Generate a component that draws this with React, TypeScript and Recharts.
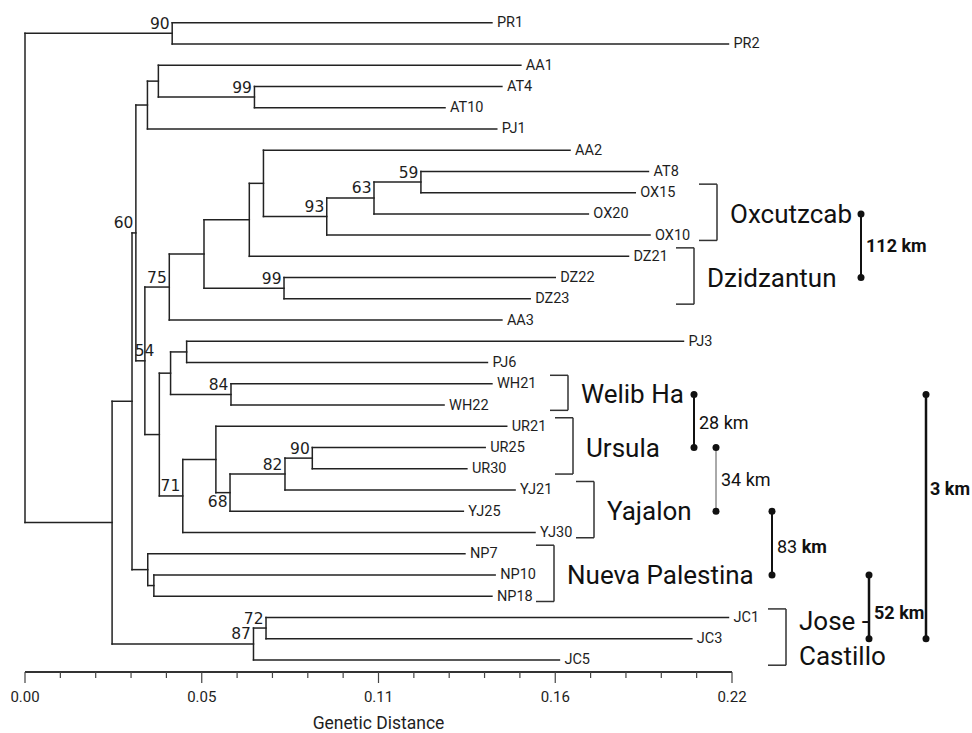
import { ComposedChart, XAxis, YAxis, ReferenceLine, ReferenceDot, Scatter } from "recharts"

// ── Data ───────────────────────────────────────────────────────────────────

const LEAF_NAMES = [
  "PR1", "PR2", "AA1", "AT4", "AT10", "PJ1", "AA2", "AT8", "OX15", "OX20", "OX10",
  "DZ21", "DZ22", "DZ23", "AA3", "PJ3", "PJ6", "WH21", "WH22", "UR21", "UR25", "UR30",
  "YJ21", "YJ25", "YJ30", "NP7", "NP10", "NP18", "JC1", "JC3", "JC5",
]

// distance from the root to each tip
const LEAF_DIST = [
  0.1453, 0.2189, 0.1543, 0.1484, 0.1307, 0.1468, 0.1696, 0.194, 0.1899, 0.1753, 0.1945,
  0.1878, 0.165, 0.1572, 0.1484, 0.2049, 0.1439, 0.1453, 0.1304, 0.1499, 0.1432, 0.1375,
  0.1525, 0.1364, 0.1587, 0.1369, 0.1463, 0.1453, 0.2189, 0.2075, 0.1663,
]

// internal nodes: id, distance from root, upper child, lower child, bootstrap
const TREE_NODES: [string, number, string, string, number | null][] = [
  ["root", 0, "nPR", "nA", null],
  ["nPR", 0.0458, "PR1", "PR2", 90],
  ["nA", 0.0271, "nB", "nJC", null],
  ["nB", 0.0333, "nC", "nNP", null],
  ["nC", 0.0345, "nAA", "nD", 60],
  ["nAA", 0.0381, "nG", "PJ1", null],
  ["nG", 0.0415, "AA1", "nAT", null],
  ["nAT", 0.0714, "AT4", "AT10", 99],
  ["nD", 0.0373, "n75", "nF", 54],
  ["n75", 0.0449, "nH", "AA3", 75],
  ["nH", 0.0557, "nI", "nDZ", null],
  ["nI", 0.0698, "nJ", "DZ21", null],
  ["nJ", 0.0742, "AA2", "n93", null],
  ["n93", 0.0939, "n63", "OX10", 93],
  ["n63", 0.1086, "n59", "OX20", 63],
  ["n59", 0.1232, "AT8", "OX15", 59],
  ["nDZ", 0.0806, "DZ22", "DZ23", 99],
  ["nF", 0.0418, "nK", "n71", null],
  ["nK", 0.0453, "nPJ", "nWH", null],
  ["nPJ", 0.0503, "PJ3", "PJ6", null],
  ["nWH", 0.0641, "WH21", "WH22", 84],
  ["n71", 0.0491, "nL", "YJ30", 71],
  ["nL", 0.0594, "UR21", "n68", null],
  ["n68", 0.0638, "n82", "YJ25", 68],
  ["n82", 0.0809, "n90", "YJ21", 82],
  ["n90", 0.0894, "UR25", "UR30", 90],
  ["nNP", 0.0382, "NP7", "nNP2", null],
  ["nNP2", 0.0401, "NP10", "NP18", null],
  ["nJC", 0.0711, "n72", "JC5", 87],
  ["n72", 0.075, "JC1", "JC3", 72],
]

// sampling sites: label, first tip, last tip
const GROUPS: [string, string, string][] = [
  ["Oxcutzcab", "OX15", "OX10"],
  ["Dzidzantun", "DZ21", "DZ23"],
  ["Welib Ha", "WH21", "WH22"],
  ["Ursula", "UR21", "UR30"],
  ["Yajalon", "YJ21", "YJ30"],
  ["Nueva Palestina", "NP7", "NP18"],
  ["Jose -|Castillo", "JC1", "JC5"],
]

// geographic distances between sites
const GEO_LINKS: [string, string, string][] = [
  ["Oxcutzcab", "Dzidzantun", "112 km"],
  ["Welib Ha", "Ursula", "28 km"],
  ["Ursula", "Yajalon", "34 km"],
  ["Yajalon", "Nueva Palestina", "83 km"],
  ["Nueva Palestina", "Jose -|Castillo", "52 km"],
  ["Welib Ha", "Jose -|Castillo", "3 km"],
]

const TICKS = [
  0, 0.011, 0.022, 0.033, 0.044, 0.055, 0.066, 0.077, 0.088, 0.099, 0.11,
  0.121, 0.132, 0.143, 0.154, 0.165, 0.176, 0.187, 0.198, 0.209, 0.22,
]
const TICK_LABELS = ["0.00", "0.05", "0.11", "0.16", "0.22"]

// ── Layout ─────────────────────────────────────────────────────────────────

const W = 972
const H = 733
const PLOT_LEFT = 25
const PLOT_W = 707
const X_MAX = 0.22
const Y_DOMAIN: [number, number] = [-1.07, 30.57]
const INK = "#1e1e1e"
const FONT = "Roboto, 'Open Sans', sans-serif"

const toX = (px: number) => ((px - PLOT_LEFT) * X_MAX) / PLOT_W

// right edge of each site bracket (px)
const BRACKET_X: Record<string, number> = {
  Oxcutzcab: 717,
  Dzidzantun: 694,
  "Welib Ha": 568,
  Ursula: 573,
  Yajalon: 594,
  "Nueva Palestina": 554,
  "Jose -|Castillo": 786,
}

// distance bars: x (px), label weight, stroke width, label nudge (px)
const LINK_STYLE: Record<string, { x: number; weight: string; sw: number; color: string; dy: number; gap: number }> = {
  "112 km": { x: 861, weight: "bold", sw: 2, color: "#111", dy: 0, gap: 5 },
  "28 km": { x: 694, weight: "normal", sw: 2, color: "#111", dy: 2, gap: 5 },
  "34 km": { x: 716, weight: "normal", sw: 1, color: "#555", dy: 0, gap: 5 },
  "83 km": { x: 772, weight: "mixed", sw: 2, color: "#111", dy: 3, gap: 5 },
  "52 km": { x: 869, weight: "bold", sw: 2.5, color: "#111", dy: 6, gap: 5 },
  "3 km": { x: 926, weight: "bold", sw: 2.5, color: "#111", dy: -28, gap: 4 },
}

// ── Tree geometry ──────────────────────────────────────────────────────────

const pos = new Map<string, { x: number; y: number }>()
LEAF_NAMES.forEach((n, i) => pos.set(n, { x: LEAF_DIST[i], y: i }))
const nodeById = new Map(TREE_NODES.map((n) => [n[0], n]))

function place(id: string): { x: number; y: number } {
  const known = pos.get(id)
  if (known) return known
  const [, d, a, b] = nodeById.get(id)!
  const pa = place(a)
  const pb = place(b)
  const p = { x: d, y: (pa.y + pb.y) / 2 }
  pos.set(id, p)
  return p
}
place("root")

type Seg = { x1: number; y1: number; x2: number; y2: number }
const SEGMENTS: Seg[] = []
TREE_NODES.forEach(([id, d, a, b]) => {
  const pa = pos.get(a)!
  const pb = pos.get(b)!
  SEGMENTS.push({ x1: d, y1: pa.y, x2: d, y2: pb.y })
  SEGMENTS.push({ x1: d, y1: pa.y, x2: pa.x, y2: pa.y })
  SEGMENTS.push({ x1: d, y1: pb.y, x2: pb.x, y2: pb.y })
})

const leafPoints = LEAF_NAMES.map((n, i) => ({ x: LEAF_DIST[i], y: i, name: n }))
const bootPoints = TREE_NODES.filter((n) => n[4] != null).map(([id, , , , boot]) => ({
  ...pos.get(id)!,
  id,
  boot,
}))

const groupY = (name: string) => {
  const g = GROUPS.find((x) => x[0] === name)!
  return (LEAF_NAMES.indexOf(g[1]) + LEAF_NAMES.indexOf(g[2])) / 2
}

// ── Pieces ─────────────────────────────────────────────────────────────────

function DistTick(props: any) {
  const { x, y, index } = props
  const major = index % 5 === 0
  return (
    <g>
      <line x1={x} x2={x} y1={y} y2={y + (major ? 11 : 6)} stroke="#444" strokeWidth={1.2} />
      {major && (
        <text x={x} y={y + 25} textAnchor="middle" dominantBaseline="central" fontSize={15} fontFamily={FONT} fill={INK}>
          {TICK_LABELS[index / 5]}
        </text>
      )}
    </g>
  )
}

function LeafLabel(props: any) {
  const { cx, cy, payload } = props
  return (
    <text x={cx + 5} y={cy} dominantBaseline="central" fontSize={14.5} fontFamily={FONT} fill={INK}>
      {payload.name}
    </text>
  )
}

function BootLabel(props: any) {
  const { cx, cy, payload } = props
  // a couple of values sit off the usual spot, as in the original figure
  const below = payload.id === "n68"
  const dx = payload.id === "nD" ? 12 : 0
  return (
    <text
      x={cx - 2.5 + dx}
      y={below ? cy + 3 : cy - 4.5}
      textAnchor="end"
      dominantBaseline={below ? "hanging" : "auto"}
      fontSize={15.5}
      fontFamily="'DejaVu Sans', sans-serif"
      fill={INK}
    >
      {payload.boot}
    </text>
  )
}

export default function App() {
  return (
    <div style={{ position: "fixed", left: 0, top: 0, width: W, height: H, background: "#fff" }}>
      <ComposedChart width={W} height={H} margin={{ top: 0, right: W - PLOT_LEFT - PLOT_W, bottom: 11, left: PLOT_LEFT }}>
        <XAxis
          type="number"
          dataKey="x"
          domain={[0, X_MAX]}
          ticks={TICKS}
          interval={0}
          tickSize={0}
          tickMargin={0}
          tickLine={false}
          tick={(p: any) => <DistTick {...p} />}
          axisLine={{ stroke: "#333", strokeWidth: 2 }}
          height={50}
          label={{
            value: "Genetic Distance",
            position: "insideBottom",
            offset: -7,
            fontSize: 17.5,
            fontFamily: FONT,
            fill: INK,
          }}
        />
        <YAxis type="number" dataKey="y" hide reversed domain={Y_DOMAIN} />

        {SEGMENTS.map((s, i) => (
          <ReferenceLine
            key={`seg-${i}`}
            segment={[{ x: s.x1, y: s.y1 }, { x: s.x2, y: s.y2 }]}
            stroke="#222"
            strokeWidth={1.5}
            strokeLinecap="square"
            ifOverflow="visible"
          />
        ))}

        <Scatter data={leafPoints} dataKey="y" shape={(p: any) => <LeafLabel {...p} />} isAnimationActive={false} />
        <Scatter data={bootPoints} dataKey="y" shape={(p: any) => <BootLabel {...p} />} isAnimationActive={false} />

        {GROUPS.map(([name, first, last]) => {
          const top = LEAF_NAMES.indexOf(first) - 0.4
          const bot = LEAF_NAMES.indexOf(last) + 0.25
          const bx = toX(BRACKET_X[name])
          const bl = toX(BRACKET_X[name] - 18)
          const lines = name.split("|")
          return [
            <ReferenceLine key={`${name}-v`} segment={[{ x: bx, y: top }, { x: bx, y: bot }]} stroke="#333" strokeWidth={1.5} ifOverflow="visible" />,
            <ReferenceLine key={`${name}-t`} segment={[{ x: bl, y: top }, { x: bx, y: top }]} stroke="#333" strokeWidth={1.5} ifOverflow="visible" />,
            <ReferenceLine key={`${name}-b`} segment={[{ x: bl, y: bot }, { x: bx, y: bot }]} stroke="#333" strokeWidth={1.5} ifOverflow="visible" />,
            <ReferenceDot
              key={`${name}-l`}
              x={toX(BRACKET_X[name] + 13)}
              y={groupY(name)}
              ifOverflow="visible"
              shape={(p: any) => (
                <text x={p.cx} y={p.cy} fontSize={26} fontFamily={FONT} fill="#111">
                  {lines.map((ln, i) => (
                    <tspan key={i} x={p.cx} y={p.cy + (i - (lines.length - 1) / 2) * 35} dominantBaseline="central">
                      {ln}
                    </tspan>
                  ))}
                </text>
              )}
            />,
          ]
        })}

        {GEO_LINKS.map(([a, b, label]) => {
          const st = LINK_STYLE[label]
          const x = toX(st.x)
          const ya = groupY(a)
          const yb = groupY(b)
          const [num, unit] = label.split(" ")
          return [
            <ReferenceLine key={`${label}-bar`} segment={[{ x, y: ya }, { x, y: yb }]} stroke={st.color} strokeWidth={st.sw} ifOverflow="visible" />,
            <ReferenceDot key={`${label}-a`} x={x} y={ya} r={3.5} fill="#111" stroke="none" ifOverflow="visible" />,
            <ReferenceDot key={`${label}-b`} x={x} y={yb} r={3.5} fill="#111" stroke="none" ifOverflow="visible" />,
            <ReferenceDot
              key={`${label}-t`}
              x={toX(st.x + st.gap)}
              y={(ya + yb) / 2}
              ifOverflow="visible"
              shape={(p: any) => (
                <text
                  x={p.cx}
                  y={p.cy + st.dy}
                  dominantBaseline="central"
                  fontSize={18}
                  fontFamily={FONT}
                  fontWeight={st.weight === "bold" ? "bold" : "normal"}
                  fill="#111"
                >
                  {st.weight === "mixed" ? (
                    <>
                      <tspan>{num} </tspan>
                      <tspan fontWeight="bold">{unit}</tspan>
                    </>
                  ) : (
                    label
                  )}
                </text>
              )}
            />,
          ]
        })}
      </ComposedChart>
    </div>
  )
}
